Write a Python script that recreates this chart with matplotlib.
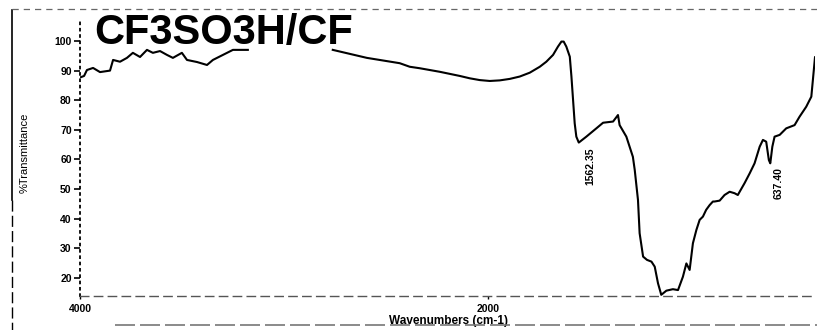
import numpy as np
import matplotlib
matplotlib.use('Agg')
import matplotlib.pyplot as plt
from matplotlib.lines import Line2D

# FTIR spectrum (wavenumber, %T); nan = gap in the trace
wavenumber = [3995, 3980, 3966, 3936, 3902, 3853, 3838, 3804, 3770, 3741,
              3706, 3672, 3643, 3608, 3574, 3545, 3501, 3476, 3427, 3378,
              3349, 3300, 3251, 3178, 3000, 2762, 2595, 2434, 2385, 2336,
              2287, 2238, 2189, 2140, 2091, 2042, 1993, 1944, 1895, 1846,
              1797, 1748, 1716, 1683, 1659, 1642, 1631, 1618, 1601, 1593,
              1585, 1577, 1569, 1557, 1520, 1471, 1438, 1389, 1365, 1357,
              1324, 1292, 1283, 1267, 1259, 1242, 1223, 1201, 1185, 1169,
              1153, 1128, 1096, 1071, 1047, 1030, 1022, 1014, 998, 981,
              965, 949, 933, 916, 900, 892, 867, 843, 818, 794,
              778, 769, 745, 720, 696, 671, 655, 639, 626, 619,
              609, 598, 573, 541, 500, 476, 443, 418, 400]
transmittance = [87.8, 88.2, 90.2, 90.9, 89.5, 90.0, 93.6, 93.0, 94.3, 96.0,
                 94.6, 97.0, 96.0, 96.6, 95.3, 94.3, 96.0, 93.6, 92.9, 91.9,
                 93.6, 95.3, 97.0, 97.0, np.nan, 97.0, 94.3, 92.5, 91.3, 90.8,
                 90.2, 89.6, 88.9, 88.2, 87.4, 86.8, 86.5, 86.7, 87.2, 88.0,
                 89.3, 91.3, 93.0, 95.3, 98.1, 99.8, 99.8, 98.1, 94.7, 88.0,
                 80.1, 72.2, 67.7, 65.7, 67.7, 70.5, 72.4, 72.8, 75.0, 71.6,
                 67.7, 60.9, 56.5, 46.3, 35.1, 27.2, 26.1, 25.5, 23.8, 18.2,
                 14.3, 15.7, 16.2, 15.9, 20.4, 24.9, 23.8, 22.7, 31.7, 36.2,
                 39.6, 40.7, 43.0, 44.6, 45.8, 45.8, 46.1, 48.0, 49.1, 48.6,
                 48.0, 49.1, 52.0, 55.3, 58.7, 64.3, 66.6, 66.0, 59.8, 58.7,
                 64.3, 67.7, 68.3, 70.5, 71.6, 74.4, 77.8, 81.2, 94.5]

peak_pos = [1562.35, 637.40]
peak_txt = ['1562.35', '637.40']
peak_y = [64.0, 57.5]

yticks = [20, 30, 40, 50, 60, 70, 80, 90, 100]
xticks = [4000, 2000]

plt.rcParams['font.family'] = ['Liberation Sans', 'DejaVu Sans']

fig = plt.figure(figsize=(8.17, 3.30), dpi=100)
ax = fig.add_axes([80/817, 1-296/330, 735/817, 287/330])

ax.plot(wavenumber, transmittance, color='black', lw=1.5)
ax.set_xlim(4000, 400)
ax.set_ylim(13.9, 110.8)

ax.set_yticks(yticks)
ax.set_yticklabels([str(v) for v in yticks], fontsize=7.5, fontweight='bold')
ax.set_xticks(xticks)
ax.set_xticklabels([str(v) for v in xticks], fontsize=7.5, fontweight='bold')
ax.tick_params(axis='y', direction='out', length=4, width=1.2, pad=2)
ax.tick_params(axis='x', direction='out', length=2, width=1, pad=4)

for s in ['top', 'right']:
    ax.spines[s].set_visible(False)
ax.spines['left'].set_linestyle((0, (1, 2.5)))
ax.spines['left'].set_linewidth(1.3)
ax.spines['left'].set_bounds(13.9, 107)
ax.spines['bottom'].set_linestyle((0, (6, 4)))
ax.spines['bottom'].set_color('#555555')
ax.spines['bottom'].set_linewidth(1.0)

for p, t, y in zip(peak_pos, peak_txt, peak_y):
    ax.text(p - 60, y, t, rotation=90, fontsize=7.5, fontweight='bold',
            ha='center', va='top')

ax.set_ylabel('%Transmittance', fontsize=8)
ax.yaxis.set_label_coords(-0.069, 0.5)
ax.set_xlabel('Wavenumbers (cm-1)', fontsize=8.5, fontweight='bold')
ax.xaxis.set_label_coords(0.502, -0.065)

fig.text(94/817, 1-44/330, 'CF3SO3H/CF', fontsize=30, fontweight='bold',
         ha='left', va='baseline')

# scanned outer frame
fig.add_artist(Line2D([12/817, 12/817], [1-10/330, 1-200/330], color='black', lw=1.2))
fig.add_artist(Line2D([12/817, 12/817], [1-200/330, 0], color='black', lw=1.0,
                      linestyle=(0, (8, 3))))
fig.add_artist(Line2D([12/817, 1], [1-9/330, 1-9/330], color='#666666', lw=0.9,
                      linestyle=(0, (5, 4))))
fig.add_artist(Line2D([115/817, 1], [1-325/330, 1-325/330], color='#777777', lw=1.2,
                      linestyle=(0, (12, 3))))

fig.savefig('out.png', dpi=100)
